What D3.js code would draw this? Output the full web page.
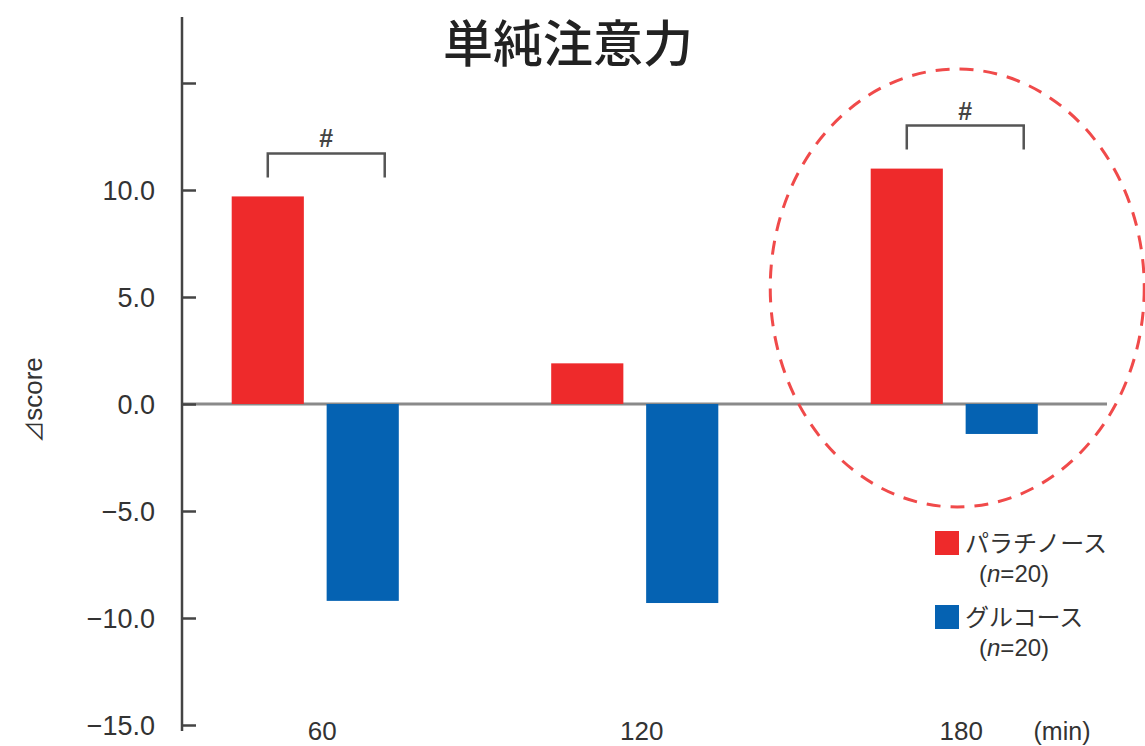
<!DOCTYPE html>
<html>
<head>
<meta charset="utf-8">
<script src="https://cdn.jsdelivr.net/npm/d3@7"></script>
<style>
  html, body { margin: 0; padding: 0; background: #fff; }
  svg { display: block; }
</style>
</head>
<body>
<svg id="chart" width="1145" height="746"></svg>
<script>
// Time points (min) after intake
const categories = ["60", "120", "180"];
// Change in simple-attention score (Δscore)
const seriesNames = ["パラチノース", "グルコース"];
const palatinoseValues = [9.7, 1.9, 11.0];
const glucoseValues = [-9.2, -9.3, -1.4];
const sampleSizes = [20, 20];
const yTickValues = [-15, -10, -5, 0, 5, 10, 15];
const yTickLabels = ["−15.0", "−10.0", "−5.0", "0.0", "5.0", "10.0", ""];
// Time points with a significant difference (#)
const significant = ["60", "180"];
const highlighted = "180";

const colors = ["#ee2a2b", "#0562b2"];
const textColor = "#333";
const cjkFont = "'Noto Sans CJK JP', 'Noto Sans', sans-serif";
const latinFont = "'Liberation Sans', Arial, sans-serif";

const svg = d3.select("#chart");

const y = d3.scaleLinear().domain([-15, 15]).range([725, 83]);
const x0 = d3.scaleBand().domain(categories).range([155.5, 1114])
  .paddingInner(0.477).paddingOuter(0.2385);
const x1 = d3.scaleBand().domain(seriesNames).range([0, x0.bandwidth()])
  .paddingInner(0.24);

const rows = categories.map((c, i) => ({
  cat: c,
  values: [palatinoseValues[i], glucoseValues[i]]
}));

// Title
svg.append("text")
  .attr("x", 568).attr("y", 62)
  .attr("text-anchor", "middle")
  .attr("font-family", cjkFont)
  .attr("font-size", 50)
  .attr("font-weight", 500)
  .attr("fill", "#222")
  .text("単純注意力");

// Y axis label
const yLabel = svg.append("text")
  .attr("transform", "translate(42,400) rotate(-90)")
  .attr("text-anchor", "middle")
  .attr("font-family", latinFont)
  .attr("font-size", 26)
  .attr("fill", textColor);
yLabel.append("tspan").attr("font-family", cjkFont).attr("font-size", 22).text("⊿");
yLabel.append("tspan").text("score");

// Zero line
svg.append("line")
  .attr("x1", 182).attr("x2", 1107)
  .attr("y1", y(0)).attr("y2", y(0))
  .attr("stroke", "#8a8a8a").attr("stroke-width", 3);

// Bars
const groups = svg.append("g").selectAll("g")
  .data(rows).join("g")
  .attr("transform", d => `translate(${x0(d.cat)},0)`);

groups.selectAll("rect")
  .data(d => d.values.map((v, i) => ({ name: seriesNames[i], v, i })))
  .join("rect")
  .attr("x", d => x1(d.name))
  .attr("width", x1.bandwidth())
  .attr("y", d => d.v >= 0 ? y(d.v) : y(0))
  .attr("height", d => Math.abs(y(d.v) - y(0)))
  .attr("fill", d => colors[d.i]);

// Y axis with inward ticks
const yAxis = d3.axisRight(y)
  .tickValues(yTickValues)
  .tickSize(14)
  .tickFormat("");
const yAxisG = svg.append("g")
  .attr("transform", "translate(182,0)")
  .call(yAxis);
yAxisG.select(".domain").remove();
yAxisG.selectAll(".tick line").attr("stroke", "#444").attr("stroke-width", 2.5);
svg.append("line")
  .attr("x1", 182).attr("x2", 182)
  .attr("y1", 17).attr("y2", 731)
  .attr("stroke", "#444").attr("stroke-width", 2.5);

svg.append("g").selectAll("text")
  .data(yTickValues.map((v, i) => ({ v, label: yTickLabels[i] })))
  .join("text")
  .attr("x", 155)
  .attr("y", d => y(d.v))
  .attr("dy", "0.36em")
  .attr("text-anchor", "end")
  .attr("font-family", latinFont)
  .attr("font-size", 27)
  .attr("fill", textColor)
  .text(d => d.label);

// X category labels
svg.append("g").selectAll("text")
  .data(categories)
  .join("text")
  .attr("x", d => x0(d) + x0.bandwidth() / 2 + 7)
  .attr("y", 740)
  .attr("text-anchor", "middle")
  .attr("font-family", latinFont)
  .attr("font-size", 26)
  .attr("fill", textColor)
  .text(d => d);

svg.append("text")
  .attr("x", 1062).attr("y", 740)
  .attr("text-anchor", "middle")
  .attr("font-family", latinFont)
  .attr("font-size", 25)
  .attr("fill", textColor)
  .text("(min)");

// Significance brackets
rows.filter(r => significant.includes(r.cat)).forEach(r => {
  const gx = x0(r.cat);
  const left = gx + x1(seriesNames[0]) + x1.bandwidth() / 2;
  const right = gx + x1(seriesNames[1]) + x1.bandwidth() / 2 + 22;
  const bottom = y(r.values[0]) - 19;
  const top = bottom - 24;
  svg.append("path")
    .attr("d", `M${left},${bottom}V${top}H${right}V${bottom}`)
    .attr("fill", "none")
    .attr("stroke", "#555")
    .attr("stroke-width", 2.5);
  svg.append("text")
    .attr("x", (left + right) / 2)
    .attr("y", top - 6)
    .attr("text-anchor", "middle")
    .attr("font-family", latinFont)
    .attr("font-size", 25)
    .attr("font-weight", "bold")
    .attr("fill", "#444")
    .text("#");
});

// Dashed ellipse around the highlighted time point
svg.append("ellipse")
  .attr("cx", x0(highlighted) + x0.bandwidth() / 2 + 3)
  .attr("cy", 288)
  .attr("rx", 187)
  .attr("ry", 219)
  .attr("fill", "none")
  .attr("stroke", "#f04a4a")
  .attr("stroke-width", 3)
  .attr("stroke-dasharray", "14 10");

// Legend
const legend = svg.append("g").attr("transform", "translate(935,531)");
seriesNames.forEach((name, i) => {
  const g = legend.append("g").attr("transform", `translate(0,${i * 74})`);
  g.append("rect")
    .attr("width", 24).attr("height", 24)
    .attr("fill", colors[i]);
  g.append("text")
    .attr("x", 30).attr("y", 21)
    .attr("font-family", cjkFont)
    .attr("font-size", 24)
    .attr("fill", textColor)
    .text(name);
  const t = g.append("text")
    .attr("x", 44).attr("y", 51)
    .attr("font-family", latinFont)
    .attr("font-size", 24)
    .attr("fill", textColor);
  t.append("tspan").text("(");
  t.append("tspan").attr("font-style", "italic").text("n");
  t.append("tspan").text("=" + sampleSizes[i] + ")");
});
</script>
</body>
</html>
